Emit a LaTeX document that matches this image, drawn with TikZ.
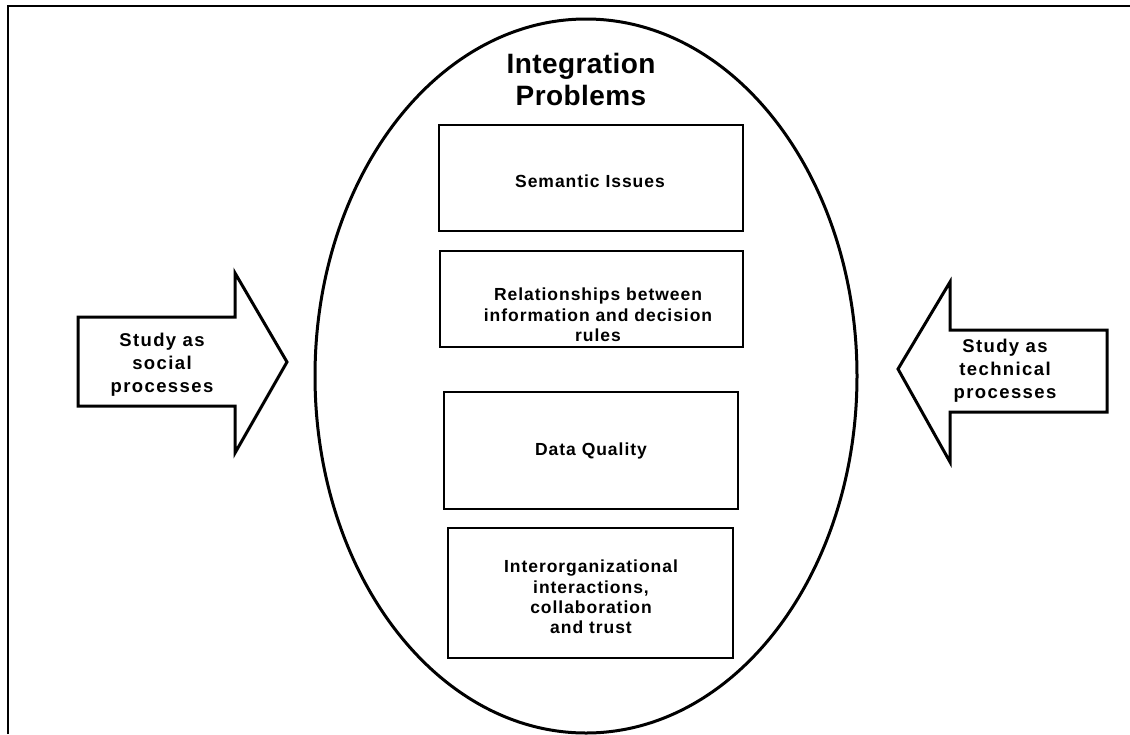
\documentclass[tikz,border=0pt]{standalone}
\usepackage{fontspec}
\setmainfont{Liberation Sans}
\newfontfamily\boxfont{Liberation Sans}[LetterSpace=5.5]
\newfontfamily\titlefont{Liberation Sans}[LetterSpace=1.5]
\newfontfamily\arrowfont{Liberation Sans}[LetterSpace=7.5]
\tikzset{
  probbox/.style={draw, line width=1.2pt, inner sep=0pt},
  boxtext/.style={font=\boxfont\bfseries\fontsize{17.5}{20.3}\selectfont, align=center, inner sep=0pt},
  arrowshape/.style={draw, line width=3pt, line join=miter},
  arrowtext/.style={font=\arrowfont\bfseries\fontsize{18.5}{23}\selectfont, align=center, inner sep=0pt},
  titletext/.style={font=\titlefont\bfseries\fontsize{28}{32}\selectfont, align=center, inner sep=0pt}
}
\begin{document}
\begin{tikzpicture}[x=1pt, y=-1pt]
\useasboundingbox (0,0) rectangle (1130,734);
% frame (top and left edges only)
\draw[line width=2pt] (8,734) -- (8,6) -- (1130,6);
% ellipse
\draw[line width=3pt] (586,376) ellipse [x radius=271, y radius=357];
\node[titletext] (title) at (581,79) {Integration\\Problems};
% boxes
\node[probbox, minimum width=304pt, minimum height=106pt] (b1) at (591,178) {};
\node[probbox, minimum width=303pt, minimum height=96pt] (b2) at (591.5,299) {};
\node[probbox, minimum width=294pt, minimum height=117pt] (b3) at (591,450.5) {};
\node[probbox, minimum width=285pt, minimum height=130pt] (b4) at (590.5,593) {};
\node[boxtext] (t1) at (590,181) {Semantic Issues};
\node[boxtext] (t2) at (598,315) {Relationships between\\information and decision\\rules};
\node[boxtext] (t3) at (591,451) {Data Quality};
\node[boxtext] (t4) at (591,597) {Interorganizational\\interactions,\\collaboration\\ and trust};
% left arrow
\draw[arrowshape] (78,317) -- (235,317) -- (235,273) -- (287,362) -- (235,453) -- (235,406) -- (78,406) -- cycle;
\node[arrowtext] (la) at (162,365) {Study as\\social\\processes};
% right arrow
\draw[arrowshape] (1107,330) -- (950,330) -- (950,282) -- (898,369) -- (950,462) -- (950,412) -- (1107,412) -- cycle;
\node[arrowtext] (ra) at (1005,371) {Study as\\technical\\processes};
\end{tikzpicture}
\end{document}
